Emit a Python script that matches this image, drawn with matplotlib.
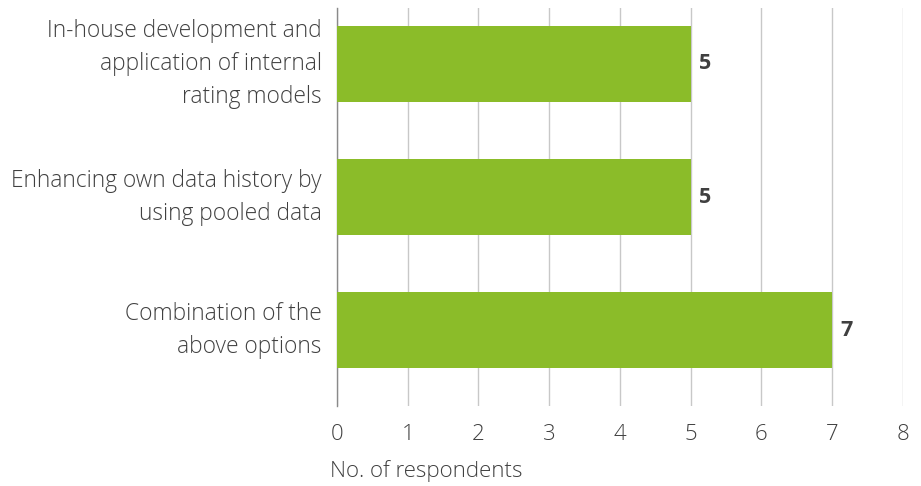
import matplotlib.pyplot as plt

categories = ['In-house development and\napplication of internal\nrating models',
              'Enhancing own data history by\nusing pooled data',
              'Combination of the\nabove options']
values = [5, 5, 7]
x_ticks = [0, 1, 2, 3, 4, 5, 6, 7, 8]

plt.rcParams['font.family'] = ['Open Sans', 'DejaVu Sans']
text_color = '#404040'

fig = plt.figure(figsize=(9.21, 4.86), dpi=100)
ax = fig.add_axes([0.366, 0.1646, 0.614, 0.8189])

pos = list(range(len(categories)))
ax.barh(pos, values, height=0.57, color='#8BBC29', zorder=3)
for p, v in zip(pos, values):
    ax.text(v + 0.12, p, str(v), va='center', ha='left', fontsize=15.5,
            fontweight='bold', color=text_color)

ax.set_ylim(2.57, -0.42)
ax.set_xlim(0, 8)
ax.set_xticks(x_ticks)
ax.set_xticklabels([str(t) for t in x_ticks], fontsize=16, fontweight='light', color=text_color)
ax.set_yticks(pos)
ax.set_yticklabels(categories, fontsize=16.4, fontweight='light', color=text_color,
                   linespacing=1.5)
for lbl in ax.get_yticklabels():
    lbl.set_va('center')
ax.tick_params(axis='both', length=0)
ax.tick_params(axis='x', pad=13)
ax.tick_params(axis='y', pad=11)

ax.grid(axis='x', color='#c8c8c8', linewidth=1, zorder=0)
for s in ['top', 'right', 'bottom']:
    ax.spines[s].set_visible(False)
ax.spines['left'].set_color('#8a8a8a')
ax.spines['left'].set_linewidth(1)

ax.set_xlabel('No. of respondents', fontsize=16, fontweight='light', color=text_color,
              loc='left', labelpad=9)
ax.xaxis.set_label_coords(-0.012, -0.135)

fig.savefig('out.png', dpi=100)
